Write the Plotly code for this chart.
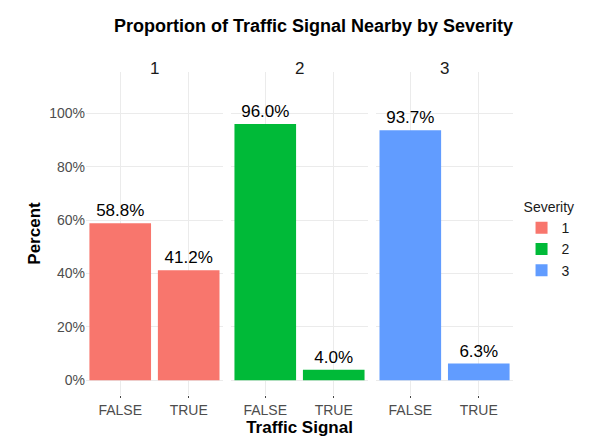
import plotly.graph_objects as go
from plotly.subplots import make_subplots

severities = ["1", "2", "3"]
signal = ["FALSE", "TRUE"]
percent = {"1": [58.8, 41.2], "2": [96.0, 4.0], "3": [93.7, 6.3]}
colors = {"1": "#F8766D", "2": "#00BA38", "3": "#619CFF"}

fig = make_subplots(rows=1, cols=3, shared_yaxes=True, horizontal_spacing=0.019,
                    subplot_titles=severities)

for i, s in enumerate(severities):
    fig.add_trace(go.Bar(
        x=signal, y=percent[s], name=s, marker_color=colors[s],
        text=[f"{v:.1f}%" for v in percent[s]], textposition="outside",
        textfont=dict(size=17, color="black"), cliponaxis=False,
        legendgroup=s, showlegend=True), row=1, col=i + 1)
    fig.update_xaxes(showgrid=True, gridcolor="#ebebeb", tickfont=dict(size=14, color="#4d4d4d"),
                     ticklen=2, row=1, col=i + 1)

fig.update_yaxes(range=[-5.5, 115.5], tickvals=[0, 20, 40, 60, 80, 100],
                 ticktext=["0%", "20%", "40%", "60%", "80%", "100%"],
                 gridcolor="#ebebeb", zeroline=False, tickfont=dict(size=14, color="#4d4d4d"))
fig.update_yaxes(title=dict(text="<b>Percent</b>", font=dict(size=17, color="black"), standoff=4),
                 row=1, col=1)
fig.update_xaxes(title=dict(text="<b>Traffic Signal</b>", font=dict(size=17, color="black"), standoff=0),
                 row=1, col=2)

for a in fig.layout.annotations:
    a.font = dict(size=17, color="#1a1a1a")
    a.yshift = -8

fig.update_layout(
    width=611, height=445, template="none", plot_bgcolor="white", paper_bgcolor="white",
    font=dict(family="Liberation Sans"),
    bargap=0.1,
    margin=dict(l=78, r=106, t=64, b=58),
    title=dict(text="<b>Proportion of Traffic Signal Nearby by Severity</b>", x=0.5, xanchor="center",
               y=0.975, font=dict(size=18, color="black")),
    legend=dict(title=dict(text="Severity", font=dict(size=14)), x=1.02, y=0.48, yanchor="middle",
                tracegroupgap=0, font=dict(size=14, color="#1a1a1a")),
)

fig.write_html("out.html")
